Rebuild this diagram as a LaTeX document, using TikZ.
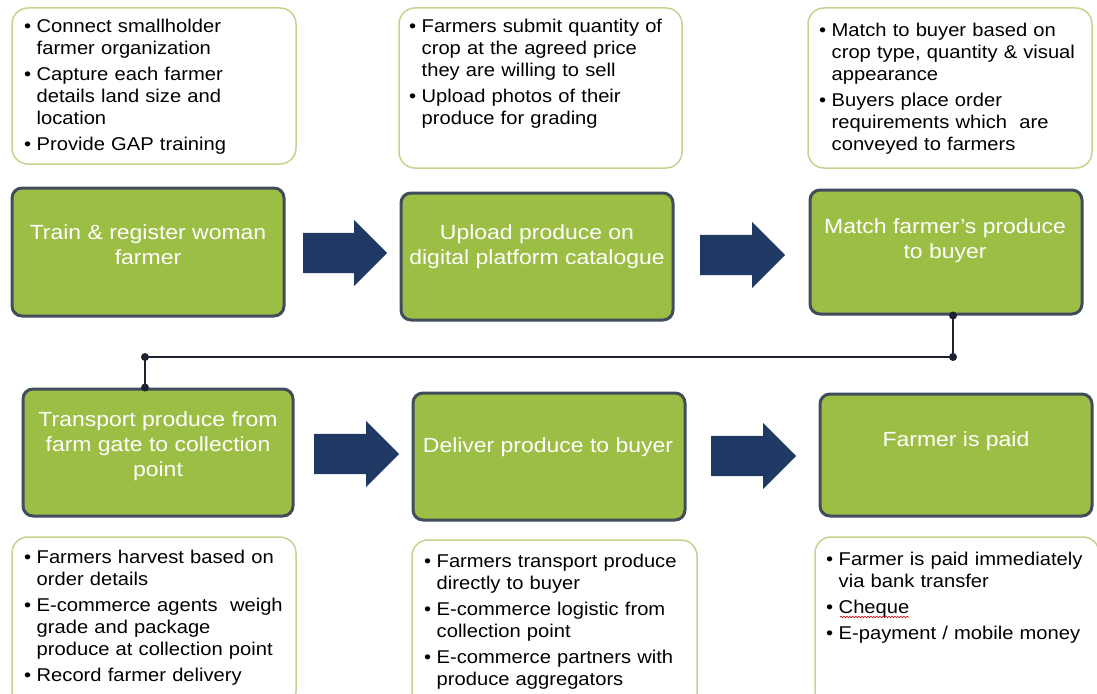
\documentclass[tikz,border=0pt]{standalone}
\usepackage{fontspec}
\setmainfont{Liberation Sans}[FakeStretch=1.12]
\newfontfamily\notefont{Liberation Sans}[FakeStretch=1.09]
\usetikzlibrary{shapes.arrows,decorations.pathmorphing}
\definecolor{boxgreen}{HTML}{9DBE44}
\definecolor{boxedge}{HTML}{414C5C}
\definecolor{noteedge}{HTML}{C2D58E}
\definecolor{arrownavy}{HTML}{203864}
\definecolor{linedark}{HTML}{1C2230}
\newcommand{\bul}[1]{\par\hangindent=12.5pt\hangafter=1\noindent\makebox[12.5pt][l]{\textbullet}#1\par}
\tikzset{
  stepbox/.style={draw=boxedge, line width=3pt, fill=boxgreen, rounded corners=10pt, inner sep=0pt},
  steptext/.style={text=white, align=center, font=\fontsize{20.5}{25}\selectfont, inner sep=0pt},
  notebox/.style={draw=noteedge, line width=1.5pt, fill=white, rounded corners=16pt, inner sep=0pt},
  notetext/.style={anchor=north west, text width=275pt, align=left, inner sep=0pt, font=\notefont\fontsize{18.5}{22}\selectfont\setlength{\parskip}{4pt}},
  flowarrow/.style={single arrow, anchor=west, fill=arrownavy, draw=none, inner xsep=0pt, inner ysep=20pt, minimum width=66pt, single arrow head extend=13pt, single arrow head indent=0pt},
  link/.style={draw=linedark, line width=2pt},
  dot/.style={circle, fill=linedark, inner sep=0pt, minimum size=8pt}
}
\begin{document}
\begin{tikzpicture}[x=1pt,y=1pt]
\useasboundingbox (0,0) rectangle (1097,-693);
% note boxes
\node[notebox, minimum width=284pt, minimum height=156pt] (n1) at (154,-86) {};
\node[notebox, minimum width=283pt, minimum height=160pt] (n2) at (540.5,-88) {};
\node[notebox, minimum width=284pt, minimum height=160pt] (n3) at (950,-88) {};
\node[notebox, minimum width=284pt, minimum height=170pt] (n4) at (154,-622) {};
\node[notebox, minimum width=285pt, minimum height=170pt] (n5) at (554.5,-625) {};
\node[notebox, minimum width=284pt, minimum height=170pt] (n6) at (957,-622) {};
% note texts
\node[notetext] (t1) at (24,-6) {\bul{Connect smallholder\newline farmer organization}\bul{Capture each farmer\newline details land size and\newline location}\bul{Provide GAP training}};
\node[notetext] (t2) at (409,-6) {\bul{Farmers submit quantity of\newline crop at the agreed price\newline they are willing to sell}\bul{Upload photos of their\newline produce for grading}};
\node[notetext] (t3) at (819,-10) {\bul{Match to buyer based on\newline crop type, quantity \& visual\newline appearance}\bul{Buyers place order\newline requirements which\ \ are\newline conveyed to farmers}};
\node[notetext] (t4) at (24,-537) {\bul{Farmers harvest based on\newline order details}\bul{E-commerce agents\ \ weigh\newline grade and package\newline produce at collection point}\bul{Record farmer delivery}};
\node[notetext] (t5) at (424,-541) {\bul{Farmers transport produce\newline directly to buyer}\bul{E-commerce logistic from\newline collection point}\bul{E-commerce partners with\newline produce aggregators}};
\node[notetext] (t6) at (826,-539) {\bul{Farmer is paid immediately\newline via bank transfer}\bul{Cheque}\bul{E-payment / mobile money}};
\draw[red!80!black, line width=0.6pt, decorate, decoration={snake, amplitude=0.8pt, segment length=3pt}] (840,-617) -- (909,-617);
% step boxes
\node[stepbox, minimum width=272pt, minimum height=128pt] (s1) at (148,-252) {};
\node[stepbox, minimum width=272pt, minimum height=127pt] (s2) at (537,-256.5) {};
\node[stepbox, minimum width=272pt, minimum height=124pt] (s3) at (946,-252) {};
\node[stepbox, minimum width=270pt, minimum height=127pt] (s4) at (158,-452.5) {};
\node[stepbox, minimum width=272pt, minimum height=127pt] (s5) at (549,-456.5) {};
\node[stepbox, minimum width=272pt, minimum height=122pt] (s6) at (956,-455) {};
% step texts
\node[steptext] (l1) at (148,-245) {Train \& register woman\\farmer};
\node[steptext] (l2) at (537,-246.5) {Upload produce on\\digital platform catalogue};
\node[steptext] (l3) at (945,-241) {Match farmer's produce\\to buyer};
\node[steptext] (l4) at (158,-446) {Transport produce from\\farm gate to collection\\point};
\node[steptext] (l5) at (548,-447) {Deliver produce to buyer};
\node[steptext] (l6) at (956,-441) {Farmer is paid};
% flow arrows
\node[flowarrow, minimum height=84pt] (a1) at (303,-253) {};
\node[flowarrow, minimum height=85pt] (a2) at (700,-255) {};
\node[flowarrow, minimum height=85pt] (a3) at (314,-454) {};
\node[flowarrow, minimum height=85pt] (a4) at (711,-456) {};
% connector
\coordinate (c1) at (953,-357);
\coordinate (c2) at (145,-357);
\draw[link] (s3.south -| c1) -- (c1) -- (c2) -- (s4.north -| c2);
\node[dot] (d1) at (s3.south -| c1) {};
\node[dot] (d2) at (c1) {};
\node[dot] (d3) at (c2) {};
\node[dot] (d4) at (s4.north -| c2) {};
\end{tikzpicture}
\end{document}
